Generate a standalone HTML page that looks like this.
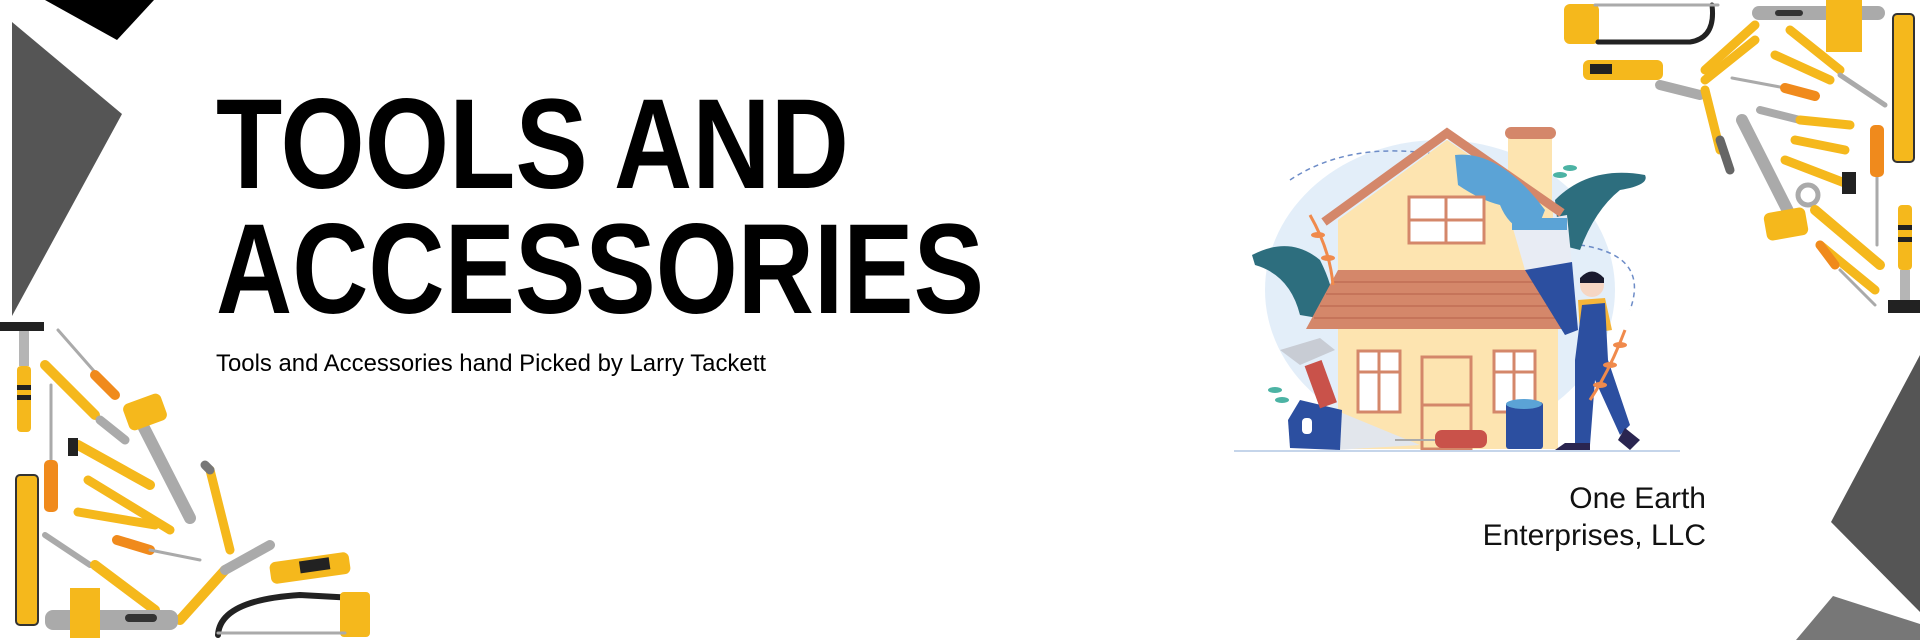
<!DOCTYPE html>
<html><head><meta charset="utf-8"><style>
html,body{margin:0;padding:0;background:#fff;}
svg{display:block;}
</style></head><body>
<svg width="1920" height="640" viewBox="0 0 1920 640" xmlns="http://www.w3.org/2000/svg">
<rect width="1920" height="640" fill="#fff"/>
<!-- left decorative shapes -->
<polygon points="12,22 122,114 12,316" fill="#555"/>
<polygon points="45,0 154,0 117,40" fill="#000"/>
<!-- right decorative shapes -->
<polygon points="1920,355 1831,522 1920,612" fill="#555"/>
<polygon points="1833,596 1920,624 1920,640 1796,640" fill="#777"/>

<!-- Title -->
<text x="216" y="188" font-family="Liberation Sans, Arial, sans-serif" font-weight="bold" font-size="128" textLength="633" lengthAdjust="spacingAndGlyphs" fill="#000">TOOLS AND</text>
<text x="216" y="313" font-family="Liberation Sans, Arial, sans-serif" font-weight="bold" font-size="128" textLength="768" lengthAdjust="spacingAndGlyphs" fill="#000">ACCESSORIES</text>
<text x="216" y="371" font-family="Liberation Sans, Arial, sans-serif" font-size="24" textLength="550" lengthAdjust="spacingAndGlyphs" fill="#000">Tools and Accessories hand Picked by Larry Tackett</text>
<text x="1706" y="508" text-anchor="end" font-family="Liberation Sans, Arial, sans-serif" font-size="30" fill="#111">One Earth</text>
<text x="1706" y="545" text-anchor="end" font-family="Liberation Sans, Arial, sans-serif" font-size="30" fill="#111">Enterprises, LLC</text>

<!-- House illustration -->
<g>
<ellipse cx="1440" cy="290" rx="175" ry="150" fill="#e3eef9"/>
<path d="M1290 180 Q1350 140 1440 155" stroke="#6d8cc7" stroke-dasharray="5 4" fill="none" stroke-width="1.5"/>
<path d="M1580 245 Q1650 255 1630 310" stroke="#6d8cc7" stroke-dasharray="5 4" fill="none" stroke-width="1.5"/>
<path d="M1252 255 Q1290 235 1320 260 Q1340 300 1330 320 L1300 315 Q1290 275 1255 265 Z" fill="#2d6e7e"/>
<path d="M1555 200 Q1590 165 1645 175 Q1650 185 1620 190 Q1595 210 1580 250 L1560 245 Z" fill="#2d6e7e"/>
<polygon points="1338,220 1447,140 1553,212 1553,272 1338,272" fill="#fde4b0"/>
<rect x="1508" y="135" width="44" height="80" fill="#fde4b0"/>
<rect x="1505" y="127" width="51" height="12" rx="6" fill="#d4876a"/>
<polyline points="1324,222 1447,133 1562,213" fill="none" stroke="#d4876a" stroke-width="9"/>
<path d="M1455 155 Q1500 150 1545 210 L1535 235 Q1510 230 1500 205 Q1480 200 1458 185 Z" fill="#5ba3d6"/>
<rect x="1409" y="197" width="75" height="46" fill="#fff" stroke="#d4876a" stroke-width="3"/>
<line x1="1446" y1="197" x2="1446" y2="243" stroke="#d4876a" stroke-width="3"/>
<line x1="1409" y1="220" x2="1484" y2="220" stroke="#d4876a" stroke-width="3"/>
<rect x="1338" y="329" width="220" height="120" fill="#fde4b0"/>
<polygon points="1338,270 1549,270 1567,329 1306,329" fill="#d4876a"/>
<g stroke="#c06e55" stroke-width="1.5"><line x1="1332" y1="282" x2="1553" y2="282"/><line x1="1326" y1="294" x2="1557" y2="294"/><line x1="1320" y1="306" x2="1561" y2="306"/><line x1="1314" y1="318" x2="1564" y2="318"/></g>
<rect x="1358" y="351" width="42" height="61" fill="#fff" stroke="#d4876a" stroke-width="3"/>
<line x1="1379" y1="351" x2="1379" y2="412" stroke="#d4876a" stroke-width="3"/>
<line x1="1358" y1="372" x2="1400" y2="372" stroke="#d4876a" stroke-width="3"/>
<rect x="1494" y="351" width="41" height="61" fill="#fff" stroke="#d4876a" stroke-width="3"/>
<line x1="1514" y1="351" x2="1514" y2="412" stroke="#d4876a" stroke-width="3"/>
<line x1="1494" y1="372" x2="1535" y2="372" stroke="#d4876a" stroke-width="3"/>
<rect x="1422" y="357" width="49" height="92" fill="#fde4b0" stroke="#d4876a" stroke-width="3"/>
<line x1="1422" y1="405" x2="1471" y2="405" stroke="#d4876a" stroke-width="3"/>
<!-- brush -->
<polygon points="1512,225 1567,215 1572,265 1525,270" fill="#e8ecf4"/>
<rect x="1512" y="218" width="55" height="12" fill="#5ba3d6"/>
<polygon points="1525,270 1572,262 1578,330 1565,335" fill="#2c4fa0"/>
<!-- man -->
<circle cx="1592" cy="285" r="12" fill="#f6d6c4"/>
<path d="M1580 278 Q1592 265 1604 278 L1604 283 L1580 283 Z" fill="#1a1a2e"/>
<path d="M1578 300 L1605 298 L1612 330 L1580 335 Z" fill="#f5b53a"/>
<path d="M1582 305 L1605 303 L1608 360 L1630 425 L1620 435 L1595 380 L1590 445 L1575 445 L1575 360 Z" fill="#2c4fa0"/>
<path d="M1625 428 L1640 440 L1630 450 L1618 440 Z" fill="#2a2550"/>
<path d="M1565 443 L1590 443 L1590 450 L1555 450 Z" fill="#2a2550"/>
<!-- bucket -->
<rect x="1506" y="402" width="37" height="47" rx="3" fill="#2c4fa0"/>
<ellipse cx="1524" cy="404" rx="18" ry="5" fill="#5ba3d6"/>
<!-- saw -->
<polygon points="1335,410 1420,445 1335,450" fill="#e2e6ec"/>
<path d="M1288 420 L1300 400 L1342 410 L1340 450 L1290 448 Z" fill="#2c4fa0"/>
<rect x="1302" y="418" width="10" height="16" rx="4" fill="#fff"/>
<!-- hammer -->
<rect x="1312" y="362" width="18" height="45" fill="#c9524a" transform="rotate(-20 1320 385)"/>
<path d="M1280 350 L1320 338 L1335 350 L1300 365 Z" fill="#c8ccd4"/>
<!-- screwdriver -->
<rect x="1435" y="430" width="52" height="18" rx="7" fill="#c9524a"/>
<line x1="1395" y1="440" x2="1435" y2="440" stroke="#aaa" stroke-width="2"/>
<!-- leaves -->
<g stroke="#f08a4c" stroke-width="3" fill="none"><path d="M1310 215 Q1330 250 1333 285"/><path d="M1625 330 Q1610 370 1590 400"/></g>
<g fill="#f08a4c"><ellipse cx="1318" cy="235" rx="7" ry="3"/><ellipse cx="1328" cy="258" rx="7" ry="3"/><ellipse cx="1620" cy="345" rx="7" ry="3"/><ellipse cx="1610" cy="365" rx="7" ry="3"/><ellipse cx="1600" cy="385" rx="7" ry="3"/></g>
<g fill="#4cb3a4"><ellipse cx="1275" cy="390" rx="7" ry="3"/><ellipse cx="1282" cy="400" rx="7" ry="3"/><ellipse cx="1560" cy="175" rx="7" ry="3"/><ellipse cx="1570" cy="168" rx="7" ry="3"/></g>
<line x1="1234" y1="451" x2="1680" y2="451" stroke="#c5d5ea" stroke-width="2"/>
</g>

<!-- Left tool cluster -->
<g stroke-linecap="round">
<rect x="0" y="322" width="44" height="9" fill="#222"/>
<rect x="19" y="331" width="10" height="35" fill="#b5b5b5"/>
<rect x="17" y="366" width="14" height="66" rx="4" fill="#f5b81c"/>
<rect x="17" y="385" width="14" height="5" fill="#222"/><rect x="17" y="395" width="14" height="5" fill="#222"/>
<rect x="16" y="475" width="22" height="150" rx="4" fill="#f5b81c" stroke="#333" stroke-width="2"/>
<line x1="51" y1="385" x2="51" y2="462" stroke="#aaa" stroke-width="3"/>
<rect x="44" y="460" width="14" height="52" rx="5" fill="#f08a1c"/>
<line x1="58" y1="330" x2="115" y2="395" stroke="#aaa" stroke-width="3"/>
<line x1="95" y1="375" x2="115" y2="395" stroke="#f08a1c" stroke-width="10"/>
<line x1="45" y1="365" x2="95" y2="415" stroke="#f5b81c" stroke-width="10"/>
<line x1="100" y1="420" x2="125" y2="440" stroke="#aaa" stroke-width="9"/>
<line x1="140" y1="420" x2="190" y2="518" stroke="#aaa" stroke-width="12"/>
<rect x="125" y="398" width="40" height="28" rx="6" fill="#f5b81c" transform="rotate(-20 145 412)"/>
<line x1="78" y1="445" x2="150" y2="485" stroke="#f5b81c" stroke-width="10"/>
<rect x="68" y="438" width="10" height="18" fill="#222"/>
<line x1="88" y1="480" x2="170" y2="530" stroke="#f5b81c" stroke-width="9"/>
<line x1="78" y1="512" x2="155" y2="525" stroke="#f5b81c" stroke-width="9"/>
<line x1="210" y1="470" x2="230" y2="550" stroke="#f5b81c" stroke-width="9"/>
<line x1="205" y1="465" x2="210" y2="470" stroke="#777" stroke-width="9"/>
<line x1="117" y1="540" x2="150" y2="550" stroke="#f08a1c" stroke-width="10"/>
<line x1="150" y1="550" x2="200" y2="560" stroke="#aaa" stroke-width="3"/>
<line x1="45" y1="535" x2="90" y2="565" stroke="#aaa" stroke-width="6"/>
<line x1="95" y1="565" x2="155" y2="610" stroke="#f5b81c" stroke-width="10"/>
<line x1="180" y1="620" x2="225" y2="570" stroke="#f5b81c" stroke-width="10"/>
<line x1="225" y1="570" x2="270" y2="545" stroke="#aaa" stroke-width="10"/>
<rect x="270" y="557" width="80" height="22" rx="6" fill="#f5b81c" transform="rotate(-8 310 568)"/>
<rect x="300" y="560" width="30" height="12" fill="#222" transform="rotate(-8 310 568)"/>
<rect x="45" y="610" width="133" height="20" rx="8" fill="#aaa"/>
<rect x="70" y="588" width="30" height="50" fill="#f5b81c"/>
<rect x="125" y="614" width="32" height="8" rx="4" fill="#333"/>
<path d="M218 635 Q220 600 300 595 L355 598" fill="none" stroke="#222" stroke-width="6"/>
<rect x="340" y="592" width="30" height="45" rx="4" fill="#f5b81c"/>
<line x1="218" y1="633" x2="345" y2="633" stroke="#aaa" stroke-width="3"/>
</g>

<!-- Right tool cluster -->
<g stroke-linecap="round">
<rect x="1564" y="4" width="35" height="40" rx="6" fill="#f5b81c"/>
<path d="M1598 42 L1690 42 Q1716 38 1712 5" fill="none" stroke="#222" stroke-width="5"/>
<line x1="1595" y1="5" x2="1718" y2="5" stroke="#aaa" stroke-width="3"/>
<rect x="1752" y="6" width="133" height="14" rx="7" fill="#aaa"/>
<rect x="1826" y="0" width="36" height="52" fill="#f5b81c"/>
<rect x="1775" y="10" width="28" height="6" rx="3" fill="#333"/>
<rect x="1893" y="14" width="21" height="148" rx="4" fill="#f5b81c" stroke="#333" stroke-width="2"/>
<rect x="1583" y="60" width="80" height="20" rx="6" fill="#f5b81c"/>
<rect x="1590" y="64" width="22" height="10" fill="#222"/>
<line x1="1660" y1="85" x2="1700" y2="95" stroke="#aaa" stroke-width="10"/>
<line x1="1705" y1="70" x2="1755" y2="25" stroke="#f5b81c" stroke-width="9"/>
<line x1="1705" y1="80" x2="1755" y2="40" stroke="#f5b81c" stroke-width="9"/>
<line x1="1790" y1="30" x2="1840" y2="70" stroke="#f5b81c" stroke-width="9"/>
<line x1="1775" y1="55" x2="1830" y2="80" stroke="#f5b81c" stroke-width="9"/>
<line x1="1840" y1="75" x2="1885" y2="105" stroke="#aaa" stroke-width="5"/>
<line x1="1732" y1="78" x2="1780" y2="87" stroke="#aaa" stroke-width="3"/>
<line x1="1785" y1="88" x2="1815" y2="96" stroke="#f08a1c" stroke-width="10"/>
<line x1="1705" y1="90" x2="1720" y2="150" stroke="#f5b81c" stroke-width="9"/>
<line x1="1720" y1="140" x2="1730" y2="170" stroke="#666" stroke-width="9"/>
<line x1="1760" y1="110" x2="1800" y2="120" stroke="#aaa" stroke-width="8"/>
<line x1="1800" y1="120" x2="1850" y2="125" stroke="#f5b81c" stroke-width="9"/>
<line x1="1795" y1="140" x2="1845" y2="150" stroke="#f5b81c" stroke-width="9"/>
<line x1="1785" y1="160" x2="1850" y2="185" stroke="#f5b81c" stroke-width="9"/>
<rect x="1842" y="172" width="14" height="22" fill="#222"/>
<line x1="1742" y1="120" x2="1790" y2="215" stroke="#aaa" stroke-width="12"/>
<rect x="1765" y="210" width="42" height="28" rx="6" fill="#f5b81c" transform="rotate(-10 1786 224)"/>
<circle cx="1808" cy="195" r="10" fill="none" stroke="#aaa" stroke-width="5"/>
<line x1="1815" y1="210" x2="1880" y2="265" stroke="#f5b81c" stroke-width="10"/>
<line x1="1820" y1="245" x2="1875" y2="290" stroke="#f5b81c" stroke-width="9"/>
<line x1="1820" y1="245" x2="1835" y2="265" stroke="#f08a1c" stroke-width="9"/>
<line x1="1840" y1="270" x2="1875" y2="305" stroke="#aaa" stroke-width="3"/>
<line x1="1877" y1="175" x2="1877" y2="245" stroke="#aaa" stroke-width="3"/>
<rect x="1870" y="125" width="14" height="52" rx="5" fill="#f08a1c"/>
<rect x="1898" y="205" width="14" height="65" rx="4" fill="#f5b81c"/>
<rect x="1898" y="225" width="14" height="5" fill="#222"/><rect x="1898" y="237" width="14" height="5" fill="#222"/>
<rect x="1900" y="270" width="10" height="32" fill="#b5b5b5"/>
<rect x="1888" y="300" width="32" height="13" fill="#222"/>
</g>
</svg>
</body></html>
